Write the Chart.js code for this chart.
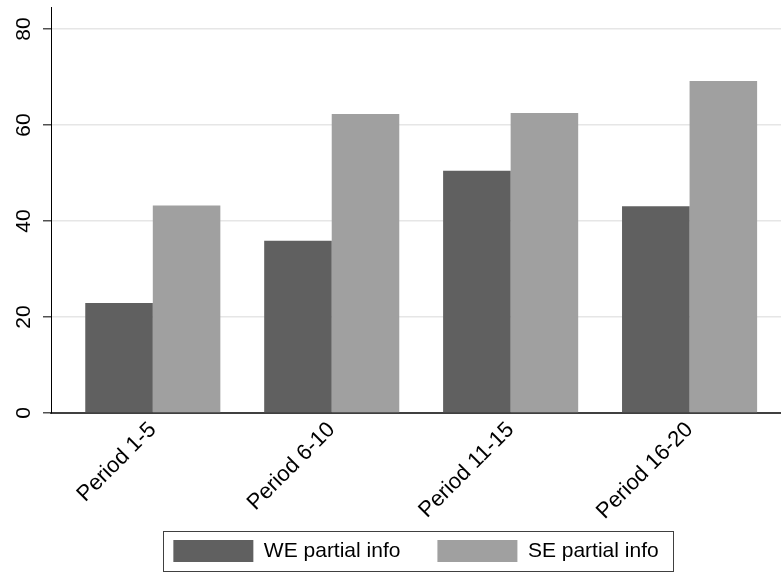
<!DOCTYPE html>
<html>
<head>
<meta charset="utf-8">
<script src="https://cdn.jsdelivr.net/npm/chart.js@4/dist/chart.umd.min.js"></script>
<style>
  html, body { margin: 0; padding: 0; background: #ffffff; }
  canvas { display: block; }
</style>
</head>
<body>
<canvas id="c" width="781" height="572"></canvas>
<script>
const categories = ["Period 1-5", "Period 6-10", "Period 11-15", "Period 16-20"];
const weValues = [22.9, 35.9, 50.5, 43.1];
const seValues = [43.25, 62.3, 62.5, 69.2];
const seriesNames = ["WE partial info", "SE partial info"];
const yTicks = [0, 20, 40, 60, 80];

const FONT = "'Liberation Sans', Arial, Helvetica, sans-serif";

const legendBoxPlugin = {
  id: 'legendBox',
  afterDraw(chart) {
    const lg = chart.legend;
    if (!lg || !lg.legendHitBoxes || !lg.legendHitBoxes.length) return;
    const hb = lg.legendHitBoxes;
    const first = hb[0], last = hb[hb.length - 1];
    const left = first.left - 10;
    const right = last.left + last.width + 15;
    const top = first.top - 9;
    const bottom = first.top + 22 + 9;
    const ctx = chart.ctx;
    ctx.save();
    ctx.strokeStyle = '#404040';
    ctx.lineWidth = 1;
    ctx.strokeRect(Math.round(left) + 0.5, Math.round(top) + 0.5, Math.round(right - left), Math.round(bottom - top));
    ctx.restore();
  }
};

new Chart(document.getElementById('c'), {
  type: 'bar',
  data: {
    datasets: [
      {
        label: seriesNames[0],
        data: weValues.map((v, i) => ({ x: i, y: v })),
        backgroundColor: '#606060',
        borderWidth: 0
      },
      {
        label: seriesNames[1],
        data: seValues.map((v, i) => ({ x: i, y: v })),
        backgroundColor: '#a0a0a0',
        borderWidth: 0
      }
    ]
  },
  options: {
    responsive: false,
    animation: false,
    devicePixelRatio: 1,
    categoryPercentage: 0.755,
    barPercentage: 1.0,
    layout: { padding: { top: 7, left: 0, right: 0, bottom: 0 } },
    plugins: {
      tooltip: { enabled: false },
      legend: {
        position: 'bottom',
        fullSize: false,
        labels: {
          boxWidth: 80,
          boxHeight: 22,
          padding: 37,
          color: '#000000',
          font: { family: FONT, size: 21 }
        }
      }
    },
    scales: {
      x: {
        type: 'linear',
        offset: false,
        min: -0.569,
        max: 3.511,
        grid: { display: false, offset: false },
        border: { display: true, color: '#404040', width: 2 },
        ticks: {
          stepSize: 1,
          includeBounds: false,
          autoSkip: false,
          minRotation: 45,
          maxRotation: 45,
          padding: -4,
          color: '#000000',
          font: { family: FONT, size: 22 },
          callback: (v) => categories[v] !== undefined ? categories[v] : ''
        },
        afterFit(scale) {
          scale.height = 90;
          scale.paddingLeft = 0;
          scale.paddingRight = 0;
          scale._computeLabelArea = function () { return undefined; };
        }
      },
      y: {
        type: 'linear',
        min: 0,
        max: 84.6,
        afterBuildTicks(scale) {
          scale.ticks = yTicks.map(v => ({ value: v }));
        },
        grid: {
          color: (ctx) => ctx.tick && ctx.tick.value === 0 ? 'rgba(0,0,0,0)' : '#e6e6e6',
          lineWidth: 1.5,
          tickColor: '#505050',
          tickLength: 8,
          drawTicks: true
        },
        border: { display: true, color: '#000000', width: 1 },
        ticks: {
          minRotation: 90,
          maxRotation: 90,
          crossAlign: 'center',
          padding: 7,
          color: '#000000',
          font: { family: FONT, size: 21 }
        },
        afterFit(scale) {
          scale.width = 51;
          scale.paddingTop = 0;
          scale.paddingBottom = 0;
        }
      }
    }
  },
  plugins: [legendBoxPlugin]
});
</script>
</body>
</html>
